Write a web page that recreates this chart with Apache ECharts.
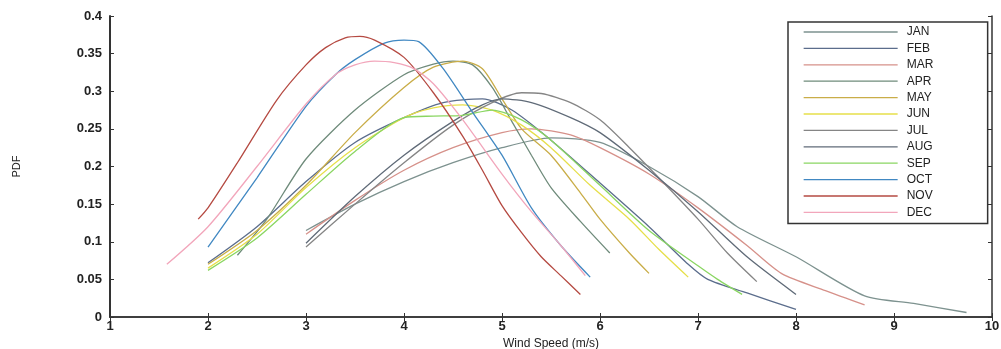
<!DOCTYPE html>
<html>
<head>
<meta charset="utf-8">
<script src="https://cdn.jsdelivr.net/npm/echarts@6/dist/echarts.min.js"></script>
<style>html,body{margin:0;padding:0;background:#fff}#c{width:1001px;height:349px}</style>
</head>
<body>
<div id="c"></div>
<script>
const MONTHS = ['JAN','FEB','MAR','APR','MAY','JUN','JUL','AUG','SEP','OCT','NOV','DEC'];
const X_TICKS = [1,2,3,4,5,6,7,8,9,10];
const Y_TICKS = [0,0.05,0.1,0.15,0.2,0.25,0.3,0.35,0.4];

const JAN = [[3.0,0.115],[3.5,0.15],[4.0,0.18],[4.5,0.205],[5.0,0.225],[5.5,0.238],[6.0,0.232],[6.5,0.2],[7.0,0.16],[7.4,0.12],[8.0,0.08],[8.7,0.028],[9.2,0.018],[9.74,0.006]];
const FEB = [[2.0,0.072],[2.5,0.12],[3.0,0.18],[3.5,0.232],[4.0,0.265],[4.4,0.285],[4.8,0.29],[5.1,0.275],[5.5,0.235],[6.0,0.178],[6.5,0.12],[6.9,0.07],[7.1,0.05],[7.5,0.032],[8.0,0.01]];
const MAR = [[3.0,0.11],[3.5,0.155],[4.0,0.195],[4.5,0.225],[5.0,0.245],[5.3,0.25],[5.7,0.242],[6.0,0.225],[6.5,0.19],[7.0,0.145],[7.5,0.095],[7.85,0.058],[8.3,0.035],[8.7,0.016]];
const APR = [[2.3,0.082],[2.6,0.13],[3.0,0.21],[3.5,0.275],[4.0,0.322],[4.3,0.336],[4.5,0.34],[4.7,0.335],[4.9,0.305],[5.1,0.26],[5.3,0.215],[5.5,0.172],[5.8,0.127],[6.1,0.085]];
const MAY = [[2.0,0.07],[2.5,0.115],[3.0,0.175],[3.5,0.245],[4.0,0.305],[4.3,0.332],[4.6,0.34],[4.8,0.33],[5.0,0.29],[5.2,0.25],[5.5,0.215],[5.8,0.165],[6.0,0.13],[6.3,0.085],[6.5,0.058]];
const JUN = [[2.0,0.065],[2.5,0.11],[3.0,0.172],[3.5,0.225],[4.0,0.265],[4.3,0.278],[4.6,0.282],[4.9,0.275],[5.2,0.255],[5.5,0.225],[5.9,0.175],[6.3,0.13],[6.6,0.09],[6.9,0.053]];
const JUL = [[3.0,0.093],[3.5,0.15],[4.0,0.205],[4.5,0.255],[4.9,0.285],[5.2,0.298],[5.4,0.297],[5.7,0.285],[6.0,0.262],[6.3,0.225],[6.6,0.185],[7.0,0.13],[7.3,0.085],[7.6,0.047]];
const AUG = [[3.0,0.098],[3.5,0.16],[4.0,0.215],[4.5,0.26],[4.8,0.282],[5.0,0.29],[5.3,0.285],[5.7,0.265],[6.0,0.245],[6.5,0.195],[7.0,0.14],[7.5,0.08],[8.0,0.03]];
const SEP = [[2.0,0.062],[2.5,0.105],[3.0,0.163],[3.5,0.22],[4.0,0.265],[4.3,0.267],[4.6,0.268],[4.9,0.275],[5.2,0.262],[5.5,0.235],[6.0,0.175],[6.5,0.115],[7.0,0.068],[7.2,0.05],[7.45,0.03]];
const OCT = [[2.0,0.093],[2.5,0.185],[3.0,0.28],[3.3,0.322],[3.5,0.342],[3.8,0.364],[4.0,0.368],[4.15,0.366],[4.4,0.33],[4.7,0.272],[5.0,0.215],[5.3,0.145],[5.6,0.095],[5.9,0.053]];
const NOV = [[1.9,0.13],[2.0,0.145],[2.3,0.205],[2.7,0.288],[3.0,0.335],[3.2,0.358],[3.4,0.371],[3.55,0.373],[3.7,0.368],[4.0,0.345],[4.3,0.298],[4.6,0.24],[4.8,0.195],[5.0,0.148],[5.2,0.112],[5.4,0.08],[5.6,0.055],[5.8,0.03]];
const DEC = [[1.58,0.07],[2.0,0.12],[2.5,0.2],[3.0,0.283],[3.3,0.322],[3.5,0.335],[3.7,0.34],[3.9,0.338],[4.1,0.33],[4.3,0.31],[4.6,0.262],[5.0,0.19],[5.3,0.14],[5.6,0.095],[5.85,0.055]];

const SERIES_DATA = [JAN,FEB,MAR,APR,MAY,JUN,JUL,AUG,SEP,OCT,NOV,DEC];
const COLORS = ['#7d928f','#5b6d8c','#d6918a','#6f8b7b','#c9ad48','#e6df4a','#858585','#606b78','#8ad662','#4188c2','#b54a42','#f2a6bb'];

const chart = echarts.init(document.getElementById('c'), null, {renderer:'canvas'});
const axisLineStyle = {color:'#333', width:1.5};
const tickFont = {fontFamily:'Liberation Sans, Arial, sans-serif', fontSize:13, color:'#222', fontWeight:'bold'};

chart.setOption({
  animation:false,
  backgroundColor:'#fff',
  color: COLORS,
  grid:{left:110, right:9, top:16, bottom:32, containLabel:false, outerBoundsMode:'none'},
  legend:{
    data: MONTHS,
    orient:'vertical',
    left:788, top:22,
    padding:[3,11,4,15],
    itemWidth:94, itemHeight:14, itemGap:2.4,
    itemStyle:{opacity:0},
    lineStyle:{width:1.3},
    borderColor:'#333', borderWidth:1.5,
    backgroundColor:'#fff',
    textStyle:{fontFamily:'Liberation Sans, Arial, sans-serif', fontSize:12, color:'#222', width:70, lineHeight:14, padding:[0,0,0,4]}
  },
  xAxis:[{
    type:'value', min:1, max:10, interval:1,
    name:'Wind Speed (m/s)', nameLocation:'middle', nameGap:19,
    nameTextStyle:{fontFamily:'Liberation Sans, Arial, sans-serif', fontSize:12, color:'#222'},
    axisLine:{show:true, lineStyle:axisLineStyle},
    axisTick:{show:true, inside:true, length:4, lineStyle:{color:'#333'}},
    axisLabel:{...tickFont, margin:3, formatter:v=>X_TICKS.includes(v)?String(v):''},
    splitLine:{show:false}
  },{
    type:'value', min:1, max:10, interval:1, position:'top',
    axisLine:{show:true, lineStyle:axisLineStyle},
    axisTick:{show:true, inside:true, length:4, lineStyle:{color:'#333'}},
    axisLabel:{show:false}, splitLine:{show:false}
  }],
  yAxis:[{
    type:'value', min:0, max:0.4, interval:0.05,
    name:'PDF', nameLocation:'middle', nameGap:88, nameRotate:90,
    nameTextStyle:{fontFamily:'Liberation Sans, Arial, sans-serif', fontSize:11, color:'#222'},
    axisLine:{show:true, lineStyle:{color:'#333', width:2}},
    axisTick:{show:true, inside:true, length:4, lineStyle:{color:'#333'}},
    axisLabel:{...tickFont, margin:8, formatter:v=>{const r=Math.round(v*100)/100; return Y_TICKS.includes(r)?String(r):'';}},
    splitLine:{show:false}
  },{
    type:'value', min:0, max:0.4, interval:0.05, position:'right',
    axisLine:{show:true, lineStyle:axisLineStyle},
    axisTick:{show:true, inside:true, length:4, lineStyle:{color:'#333'}},
    axisLabel:{show:false}, splitLine:{show:false}
  }],
  series: MONTHS.map((m,i)=>({
    name:m, type:'line', data:SERIES_DATA[i], symbol:'none', smooth:0.25,
    xAxisIndex:0, yAxisIndex:0,
    lineStyle:{width:1.3, color:COLORS[i]}
  }))
});
</script>
</body>
</html>
